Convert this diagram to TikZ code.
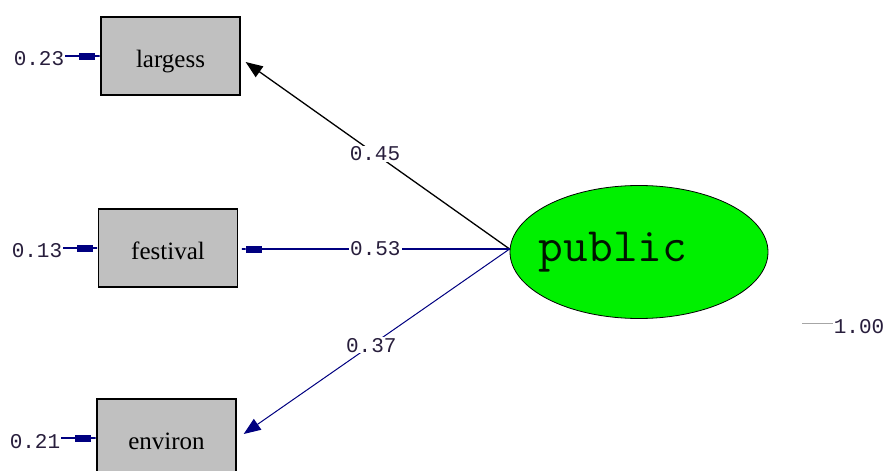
\documentclass[tikz,border=0pt]{standalone}
\usepackage{fontspec}
\usetikzlibrary{arrows.meta,shapes.geometric}
\newfontfamily\boxfont{Liberation Serif}
\newfontfamily\monofnt{Liberation Mono}
\definecolor{lisnavy}{RGB}{0,0,128}
\definecolor{lisgray}{RGB}{192,192,192}
\definecolor{lisgreen}{RGB}{0,240,0}
\definecolor{labtext}{RGB}{40,30,60}
\tikzset{
  obsbox/.style={draw=black, line width=1.3pt, fill=lisgray, minimum width=139pt, minimum height=78pt, inner sep=0pt, text height=26pt, text depth=4pt, font=\boxfont\fontsize{25}{27}\selectfont},
  latent/.style={draw=black, line width=0.8pt, fill=lisgreen, ellipse, minimum width=258pt, minimum height=133pt, inner sep=0pt},
  lbl/.style={font=\monofnt\fontsize{21}{23}\selectfont, text=labtext, fill=white, inner sep=1pt},
  blocktip/.style={-{Rectangle[length=16pt,width=7pt,sep=0pt]Rectangle[length=5pt,width=1.3pt,sep=0pt]}},
  errline/.style={draw=lisnavy, line width=1.3pt, blocktip},
  pathblack/.style={draw=black, line width=1.3pt, -{Triangle[length=17pt,width=13pt]}},
  pathblue/.style={draw=lisnavy, line width=1pt},
}
\begin{document}
\begin{tikzpicture}[x=1pt,y=-1pt]
\useasboundingbox (0,0) rectangle (887,471);
\node[obsbox] (largess) at (170.5,56) {largess};
\node[obsbox] (festival) at (168,248) {festival};
\node[obsbox] (environ) at (166.5,438) {environ};
\node[latent] (public) at (639,252) {};
\node[font=\ttfamily\fontsize{48}{52}\selectfont, text=black!92!green] (pubtxt) at (613,252) {public};
% error labels
\node[lbl] (e1) at (39,59) {0.23};
\node[lbl] (e2) at (37,251) {0.13};
\node[lbl] (e3) at (35,442) {0.21};
\draw[errline] (largess.west -| e1.east) -- (largess.west);
\draw[errline] (festival.west -| e2.east) -- (festival.west);
\draw[errline] (environ.west -| e3.east) -- (environ.west);
% loadings
\coordinate (src) at ([yshift=3pt]public.west);
\coordinate (fend) at ([xshift=3pt]festival.east);
\draw[pathblack] (src) -- ([xshift=5pt,yshift=-6pt]largess.east) node[lbl, pos=0.51] (l1) {0.45};
\draw[pathblue, line width=1.3pt, blocktip] (src) -- (src -| fend) node[lbl, pos=0.5] (l2) {0.53};
\draw[pathblue, -{Triangle[length=17pt,width=13pt]}] (src) -- ([xshift=7pt,yshift=4pt]environ.east) node[lbl, pos=0.52] (l3) {0.37};
% variance of latent
\coordinate (v0) at (802,323);
\node[lbl] (var) at (859,327) {1.00};
\draw[gray!70, line width=1pt] (v0) -- (v0 -| var.west);
\end{tikzpicture}
\end{document}
